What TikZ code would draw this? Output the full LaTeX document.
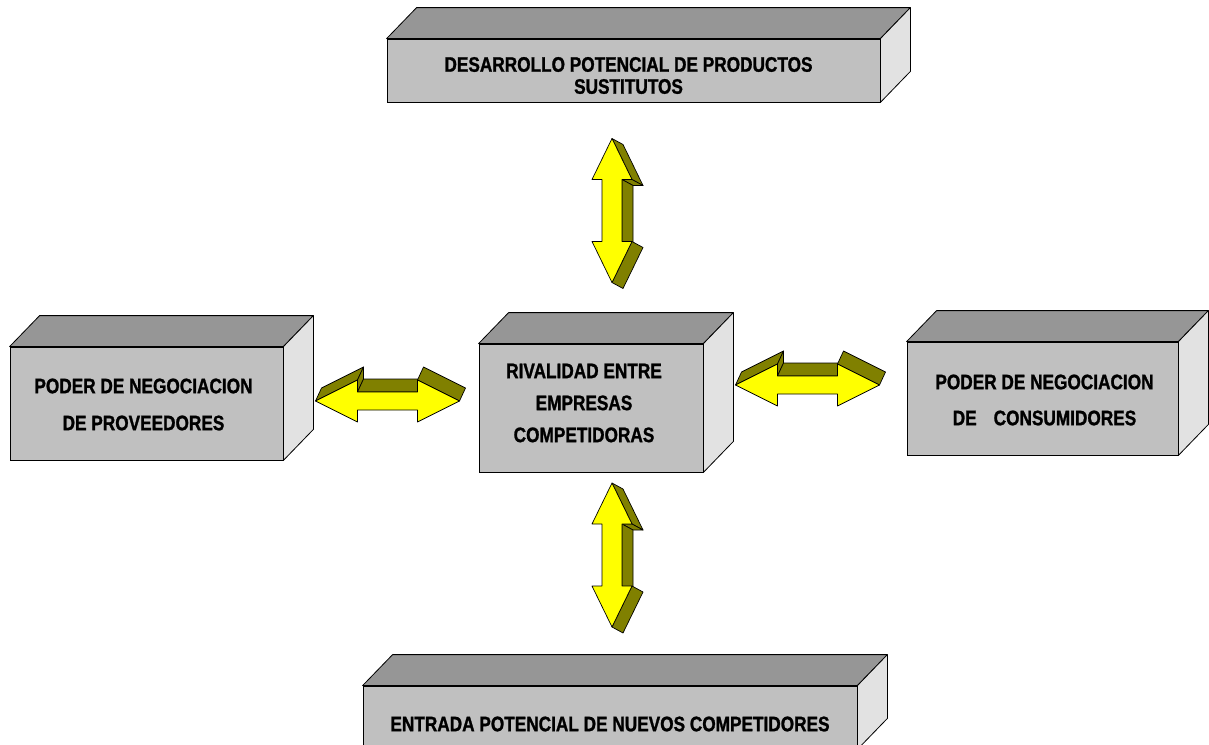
\documentclass[tikz,border=0pt]{standalone}
\usepackage{fontspec}
\newfontfamily\boxfont{Liberation Sans}[FakeStretch=0.82,FakeBold=1.2]
\definecolor{frontgray}{HTML}{C0C0C0}
\definecolor{topgray}{HTML}{969696}
\definecolor{sidegray}{HTML}{E2E2E2}
\definecolor{arrowyellow}{HTML}{FFFF00}
\definecolor{arrowolive}{HTML}{808000}
\newcommand\boxfaces[1]{%
  \draw[boxtop] (#1.north west) -- ++(30,-31) -- ([shift={(30,-31)}]#1.north east) -- (#1.north east) -- cycle;
  \draw[boxside] (#1.north east) -- ++(30,-31) -- ([shift={(30,-31)}]#1.south east) -- (#1.south east) -- cycle;}
\tikzset{
  boxfront/.style={draw=black,fill=frontgray,line width=0.8pt,inner sep=0pt},
  boxtop/.style={draw=black,fill=topgray,line width=0.8pt,line join=round},
  boxside/.style={draw=black,fill=sidegray,line width=0.8pt,line join=round},
  boxtext/.style={font=\boxfont\bfseries\fontsize{21}{22}\selectfont,align=center,inner sep=0pt,text=black},
  arrowfront/.style={draw=black,fill=arrowyellow,line width=0.7pt,line join=round},
  arrowside/.style={draw=black,fill=arrowolive,line width=0.7pt,line join=round},
  harrow/.pic={
    \draw[arrowside] (-72,0) -- (-30,-21) -- (-24,-34) -- (-66,-13) -- cycle;
    \draw[arrowside] (-30,-21) -- (-30,-9) -- (-24,-22) -- (-24,-34) -- cycle;
    \draw[arrowside] (-30,-9) -- (30,-9) -- (36,-22) -- (-24,-22) -- cycle;
    \draw[arrowside] (30,-21) -- (72,0) -- (78,-13) -- (36,-34) -- cycle;
    \draw[arrowfront] (-72,0) -- (-30,-21) -- (-30,-9) -- (30,-9) -- (30,-21) -- (72,0)
      -- (30,21) -- (30,9) -- (-30,9) -- (-30,21) -- cycle;
  },
  varrow/.pic={
    \draw[arrowside] (0,-72) -- (20,-31) -- (31,-25) -- (11,-66) -- cycle;
    \draw[arrowside] (20,-31) -- (10,-31) -- (21,-25) -- (31,-25) -- cycle;
    \draw[arrowside] (10,-31) -- (10,31) -- (21,37) -- (21,-25) -- cycle;
    \draw[arrowside] (20,31) -- (0,72) -- (11,78) -- (31,37) -- cycle;
    \draw[arrowfront] (0,-72) -- (20,-31) -- (10,-31) -- (10,31) -- (20,31) -- (0,72)
      -- (-20,31) -- (-10,31) -- (-10,-31) -- (-20,-31) -- cycle;
  },
}
\begin{document}
\begin{tikzpicture}[x=1pt,y=-1pt]
\useasboundingbox (0,0) rectangle (1209,744);
\fill[white] (0,0) rectangle (1209,744);
\clip (0,0) rectangle (1209,744);

% boxes
\node[boxfront,minimum width=493pt,minimum height=63pt,
  label={[boxtext,xshift=-5pt,yshift=-5pt]center:{DESARROLLO POTENCIAL DE PRODUCTOS\\SUSTITUTOS}}] (sub) at (633.5,70.5) {};
\boxfaces{sub}
\node[boxfront,minimum width=273pt,minimum height=113pt,
  label={[boxtext,xshift=-3pt,yshift=-1pt]center:{PODER DE NEGOCIACION\\[15pt]DE PROVEEDORES}}] (prov) at (146.5,403.5) {};
\boxfaces{prov}
\node[boxfront,minimum width=224pt,minimum height=128pt,
  label={[boxtext,xshift=-7pt,yshift=5pt]center:{RIVALIDAD ENTRE\\[10pt]EMPRESAS\\[10pt]COMPETIDORAS}}] (riv) at (591,408) {};
\boxfaces{riv}
\node[boxfront,minimum width=271pt,minimum height=113pt,
  label={[boxtext,xshift=2pt,yshift=-1.5pt]center:{PODER DE NEGOCIACION\\[14pt]DE\hspace{17pt}CONSUMIDORES}}] (cons) at (1042.5,398.5) {};
\boxfaces{cons}
\node[boxfront,minimum width=494pt,minimum height=63pt,
  label={[boxtext,yshift=-6.5pt]center:{ENTRADA POTENCIAL DE NUEVOS COMPETIDORES}}] (ent) at (610,717.5) {};
\boxfaces{ent}

% 3D double arrows
\pic (upar) at (612,210.5) {varrow};
\pic (downar) at (612,555) {varrow};
\pic (leftar) at (387.5,401) {harrow};
\pic (rightar) at (807.5,385) {harrow};
\end{tikzpicture}
\end{document}
